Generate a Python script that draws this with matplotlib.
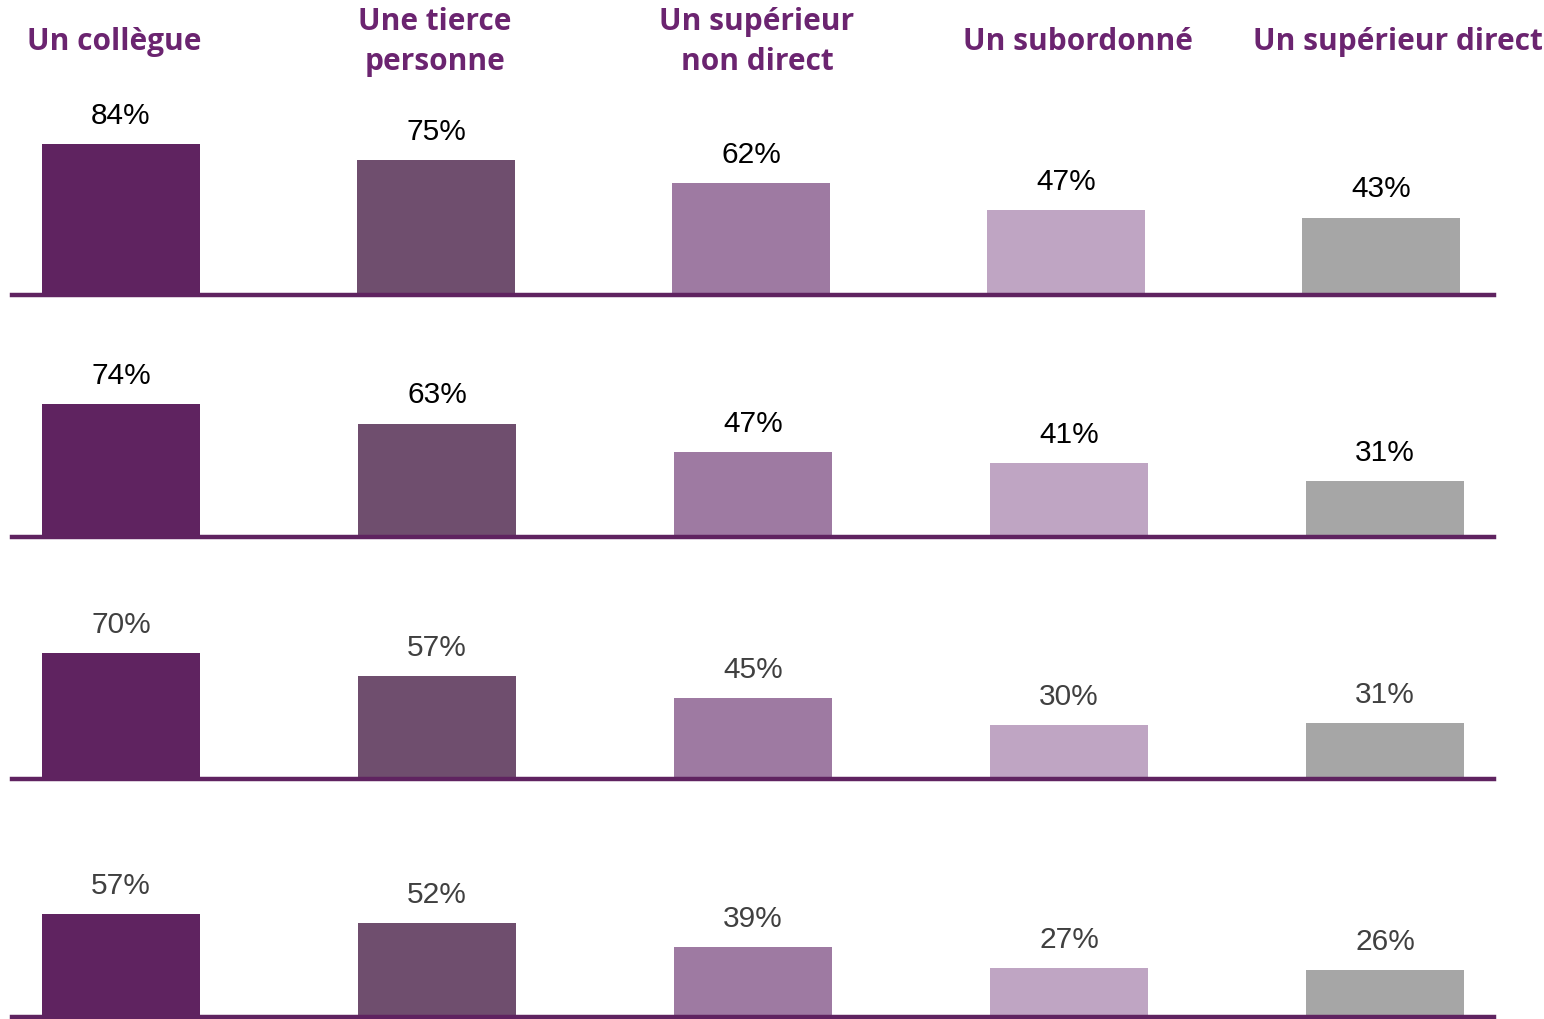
import matplotlib.pyplot as plt
import numpy as np

categories = [
    "Un collègue",
    "Une tierce\npersonne",
    "Un supérieur\nnon direct",
    "Un subordonné",
    "Un supérieur direct",
]
row1 = [84, 75, 62, 47, 43]
row2 = [74, 63, 47, 41, 31]
row3 = [70, 57, 45, 30, 31]
row4 = [57, 52, 39, 27, 26]
rows = [row1, row2, row3, row4]
label_colors = ["#000000", "#000000", "#404040", "#404040"]

bar_colors = ["#5F2360", "#6F4E6E", "#9E7AA2", "#BFA5C3", "#A6A6A6"]
line_color = "#5F2360"
header_color = "#6B2470"

W, H = 1544, 1020
fig = plt.figure(figsize=(W / 100, H / 100), dpi=100)

baselines = [296, 538, 780, 1018]
spacing_px = [315, 316, 316, 316]
px_per_pct = 1.8
ax_h = 200
left_px, right_px = 12, 1494
first_center = 121
x = np.arange(len(categories))

for vals, base, lc, sp in zip(rows, baselines, label_colors, spacing_px):
    ax = fig.add_axes([left_px / W, 1 - base / H, (right_px - left_px) / W, ax_h / H])
    ax.bar(x, vals, width=158 / sp, color=bar_colors, zorder=1)
    for xi, v in zip(x, vals):
        ax.annotate(f"{v}%", (xi, v), xytext=(0, 11), textcoords="offset points",
                    ha="center", va="bottom", fontsize=21.5, color=lc,
                    family="Liberation Sans")
    ax.set_xlim((left_px - first_center) / sp, (right_px - first_center) / sp)
    ax.set_ylim(0, ax_h / px_per_pct)
    for side in ["top", "left", "right"]:
        ax.spines[side].set_visible(False)
    ax.spines["bottom"].set_color(line_color)
    ax.spines["bottom"].set_linewidth(3.2)
    ax.spines["bottom"].set_zorder(3)
    ax.set_xticks([])
    ax.set_yticks([])
    ax.patch.set_alpha(0)

header_x = [114, 435, 757, 1078, 1398]
for hx, name in zip(header_x, categories):
    fig.text(hx / W, 1 - 42 / H, name, ha="center", va="center", fontsize=21.5,
             fontweight="bold", color=header_color, family="Open Sans",
             linespacing=1.45)

fig.savefig("out.png", dpi=100)
